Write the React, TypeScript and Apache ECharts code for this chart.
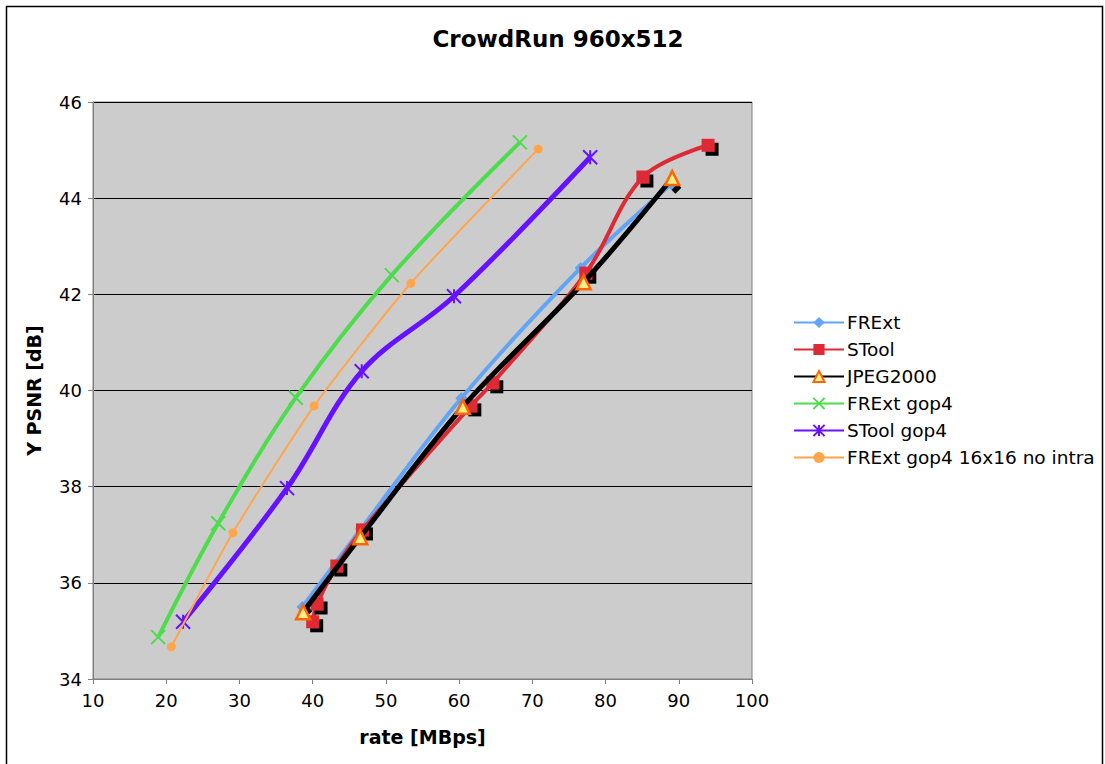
import React, { useEffect, useRef } from "react";
import * as echarts from "echarts";

const TITLE = "CrowdRun 960x512";
const X_NAME = "rate [MBps]";
const Y_NAME = "Y PSNR [dB]";

const seriesNames = [
  "FRExt",
  "STool",
  "JPEG2000",
  "FRExt gop4",
  "STool gop4",
  "FRExt gop4 16x16 no intra",
];

const frextData = [
  [38.6, 35.5],
  [46.6, 37.12],
  [60.3, 39.84],
  [76.6, 42.55],
  [89.0, 44.3],
];
const stoolData = [
  [40.0, 35.19],
  [40.6, 35.56],
  [43.3, 36.35],
  [46.8, 37.1],
  [61.6, 39.68],
  [64.6, 40.16],
  [77.3, 42.44],
  [85.1, 44.44],
  [94.0, 45.1],
];
const jpegData = [
  [38.7, 35.39],
  [46.5, 36.95],
  [60.5, 39.66],
  [77.0, 42.25],
  [89.1, 44.42],
];
const frextGop4Data = [
  [18.9, 34.87],
  [27.1, 37.24],
  [37.7, 39.85],
  [50.8, 42.4],
  [68.3, 45.16],
];
const stoolGop4Data = [
  [22.3, 35.19],
  [36.5, 37.97],
  [46.7, 40.4],
  [59.3, 41.96],
  [77.9, 44.85],
];
const frextGop4NoIntraData = [
  [20.7, 34.67],
  [29.1, 37.04],
  [40.2, 39.68],
  [53.4, 42.23],
  [70.8, 45.02],
];

const FONT = "DejaVu Sans";

export default function App() {
  const ref = useRef<HTMLDivElement>(null);

  useEffect(() => {
    if (!ref.current) return;
    const chart = echarts.init(ref.current, null, { renderer: "svg" });
    const shadow = {
      shadowColor: "#000",
      shadowOffsetX: 4,
      shadowOffsetY: 4,
      shadowBlur: 0,
    };
    const option = {
      animation: false,
      backgroundColor: "#ffffff",
      textStyle: { fontFamily: FONT },
      title: {
        text: TITLE,
        left: 558,
        top: 27,
        textAlign: "center",
        padding: 0,
        textStyle: { fontFamily: FONT, fontSize: 23, fontWeight: "bold", color: "#000" },
      },
      graphic: [
        {
          type: "rect",
          shape: { x: 6.5, y: 6.5, width: 1096, height: 780 },
          style: { fill: "none", stroke: "#000", lineWidth: 1.5 },
          silent: true,
        },
      ],
      legend: {
        orient: "vertical",
        left: 793,
        top: 313,
        padding: 0,
        itemWidth: 50,
        itemHeight: 14,
        itemGap: 8,
        textStyle: { fontFamily: FONT, fontSize: 18.5, color: "#000", padding: [0, 0, 0, -2] },
        data: seriesNames,
      },
      grid: {
        left: 93,
        top: 102,
        right: 353,
        bottom: 85,
        show: true,
        backgroundColor: "#cccccc",
        borderColor: "#808080",
        borderWidth: 1,
      },
      xAxis: {
        type: "value",
        min: 10,
        max: 100,
        interval: 10,
        name: X_NAME,
        nameLocation: "middle",
        nameGap: 48,
        nameTextStyle: { fontFamily: FONT, fontSize: 19, fontWeight: "bold", color: "#000" },
        axisLine: { show: true, lineStyle: { color: "#808080" } },
        axisTick: { show: true, inside: false, length: 5, lineStyle: { color: "#808080" } },
        axisLabel: { fontFamily: FONT, fontSize: 18, color: "#000", margin: 12 },
        splitLine: { show: false },
      },
      yAxis: {
        type: "value",
        min: 34,
        max: 46,
        interval: 2,
        name: Y_NAME,
        nameLocation: "middle",
        nameGap: 50,
        nameRotate: 90,
        nameTextStyle: { fontFamily: FONT, fontSize: 19, fontWeight: "bold", color: "#000" },
        axisLine: { show: true, lineStyle: { color: "#808080" } },
        axisTick: { show: true, inside: false, length: 5, lineStyle: { color: "#808080" } },
        axisLabel: { fontFamily: FONT, fontSize: 18, color: "#000", margin: 11 },
        splitLine: { show: true, lineStyle: { color: "#000", width: 1 } },
      },
      series: [
        {
          name: "FRExt",
          type: "line",
          data: frextData,
          smooth: 0.35,
          symbol: "diamond",
          symbolSize: 12,
          lineStyle: { color: "#62a4f5", width: 4 },
          itemStyle: { color: "#62a4f5", ...shadow },
          z: 2,
        },
        {
          name: "STool",
          type: "line",
          data: stoolData,
          smooth: 0.35,
          symbol: "rect",
          symbolSize: 13,
          lineStyle: { color: "#dd2a35", width: 4 },
          itemStyle: { color: "#dd2a35", ...shadow },
          z: 3,
        },
        {
          name: "JPEG2000",
          type: "line",
          data: jpegData,
          smooth: 0.35,
          symbol: "triangle",
          symbolSize: 14,
          lineStyle: { color: "#000000", width: 5 },
          itemStyle: { color: "#ffee88", borderColor: "#ff6600", borderWidth: 2.5 },
          z: 4,
        },
        {
          name: "FRExt gop4",
          type: "line",
          data: frextGop4Data,
          smooth: 0.35,
          symbol: "path://M0,0L10,10M10,0L0,10",
          symbolSize: 14,
          lineStyle: { color: "#4cdc4c", width: 4 },
          itemStyle: { color: "#4cdc4c", borderColor: "#4cdc4c", borderWidth: 2 },
          z: 5,
        },
        {
          name: "STool gop4",
          type: "line",
          data: stoolGop4Data,
          smooth: 0.35,
          symbol: "path://M0,0L10,10M10,0L0,10M5,0L5,10",
          symbolSize: 14,
          lineStyle: { color: "#6611ff", width: 5 },
          itemStyle: { color: "#6611ff", borderColor: "#6611ff", borderWidth: 2 },
          z: 6,
        },
        {
          name: "FRExt gop4 16x16 no intra",
          type: "line",
          data: frextGop4NoIntraData,
          smooth: 0.2,
          symbol: "circle",
          symbolSize: 9,
          lineStyle: { color: "#ffa64d", width: 2 },
          itemStyle: { color: "#ffa64d" },
          z: 7,
        },
      ],
    };
    chart.setOption(option as any);
    return () => chart.dispose();
  }, []);

  return (
    <div
      ref={ref}
      style={{ position: "absolute", left: 0, top: 0, width: 1105, height: 764 }}
    />
  );
}
